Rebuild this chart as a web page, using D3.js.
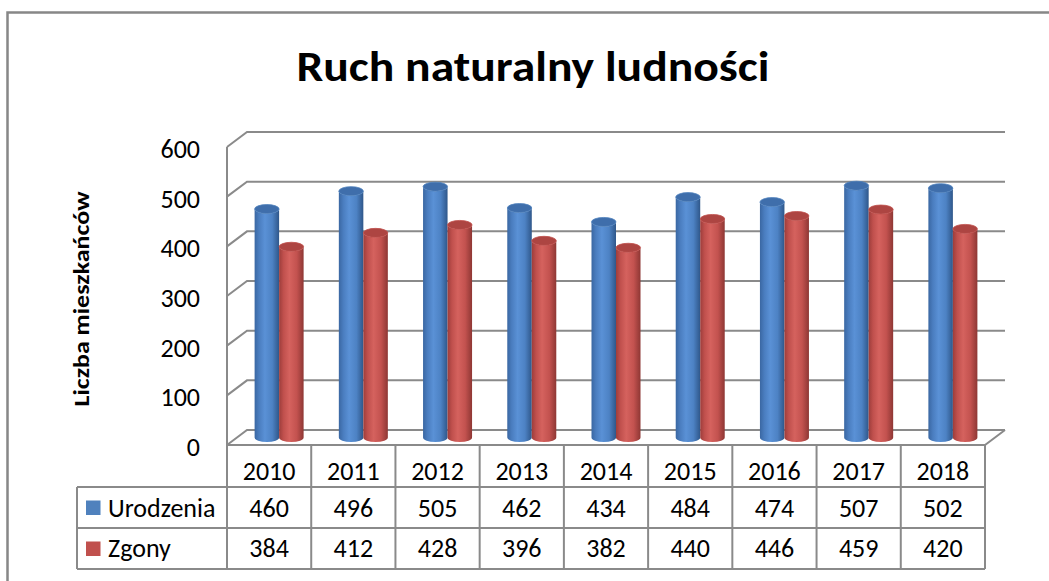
<!DOCTYPE html>
<html>
<head>
<meta charset="utf-8">
<script src="https://cdn.jsdelivr.net/npm/d3@7"></script>
<style>
  body { margin: 0; background: #fff; }
  svg { display: block; }
</style>
</head>
<body>
<script>
const width = 1049;
const height = 581;

const years = ["2010", "2011", "2012", "2013", "2014", "2015", "2016", "2017", "2018"];
const urodzenia = [460, 496, 505, 462, 434, 484, 474, 507, 502];
const zgony = [384, 412, 428, 396, 382, 440, 446, 459, 420];
const yTicks = [0, 100, 200, 300, 400, 500, 600];
const seriesNames = ["Urodzenia", "Zgony"];

const series = [
  { name: seriesNames[0], values: urodzenia, color: "#4f81bd", top: "#3f6eab", grad: "gBlue" },
  { name: seriesNames[1], values: zgony, color: "#c0504d", top: "#ad4542", grad: "gRed" }
];

const font = "Carlito, Lato, 'Open Sans', sans-serif";
const lineColor = "#8a8a8a";

// 3d offsets (front -> back of the plot box)
const depthX = 20;
const depthY = -15;

const x = d3.scaleBand().domain(years).range([227, 985]);
const y = d3.scaleLinear().domain([0, 600]).range([445, 147]);

const svg = d3
  .select("body")
  .append("svg")
  .attr("width", width)
  .attr("height", height)
  .attr("font-family", font);

const defs = svg.append("defs");
const addGrad = (id, stops) => {
  const g = defs.append("linearGradient").attr("id", id).attr("x1", 0).attr("x2", 1).attr("y1", 0).attr("y2", 0);
  stops.forEach(([o, c]) => g.append("stop").attr("offset", o).attr("stop-color", c));
};
addGrad("gBlue", [["0%", "#3a67a2"], ["18%", "#4a7dbf"], ["42%", "#5a91d6"], ["72%", "#4d82c4"], ["100%", "#2f578a"]]);
addGrad("gRed", [["0%", "#9d3d3b"], ["18%", "#c0504d"], ["42%", "#d5625e"], ["72%", "#c3524f"], ["100%", "#8e3734"]]);

// outer chart border
svg
  .append("path")
  .attr("d", `M7.5,${height} V12.5 H${width}`)
  .attr("fill", "none")
  .attr("stroke", "#878787")
  .attr("stroke-width", 2.5);

// title
svg
  .append("text")
  .attr("x", 533)
  .attr("y", 81)
  .attr("text-anchor", "middle")
  .attr("font-size", 42)
  .attr("font-weight", "bold")
  .attr("textLength", 473)
  .attr("lengthAdjust", "spacingAndGlyphs")
  .text("Ruch naturalny ludności");

// y axis title
svg
  .append("text")
  .attr("transform", "translate(89,299) rotate(-90)")
  .attr("text-anchor", "middle")
  .attr("font-size", 22)
  .attr("font-weight", "bold")
  .attr("textLength", 215)
  .attr("lengthAdjust", "spacingAndGlyphs")
  .text("Liczba mieszkańców");

const x0 = x.range()[0];
const x1 = x.range()[1];

// gridlines on back wall + side wall diagonals
const grid = svg.append("g").attr("stroke", lineColor).attr("stroke-width", 2).attr("fill", "none");
grid
  .selectAll("path")
  .data(yTicks)
  .join("path")
  .attr("d", (d) => `M${x0},${y(d)} L${x0 + depthX},${y(d) + depthY} H${x1 + depthX}`);

// left front edge and floor
grid.append("path").attr("d", `M${x0},${y(600)} V${y(0)}`);
grid.append("path").attr("d", `M${x0},${y(0)} H${x1} L${x1 + depthX},${y(0) + depthY}`);

// tick labels
svg
  .append("g")
  .attr("font-size", 26)
  .attr("text-anchor", "end")
  .selectAll("text")
  .data(yTicks)
  .join("text")
  .attr("x", 200)
  .attr("y", (d) => y(d) + 11)
  .text((d) => d);

// cylinders
const barW = 24.5;
const rx = barW / 2;
const ry = 4.5;
const midX = depthX / 2;
const midY = depthY / 2;

const bars = svg.append("g");
years.forEach((yr, i) => {
  const cx = x(yr) + x.bandwidth() / 2 + midX;
  series.forEach((s, j) => {
    const left = cx - barW + j * barW;
    const right = left + barW;
    const top = y(s.values[i]) + midY;
    const bot = y(0) + midY;
    const g = bars.append("g");
    g.append("path")
      .attr("d", `M${left},${top} V${bot} A${rx},${ry} 0 0 0 ${right},${bot} V${top} A${rx},${ry} 0 0 1 ${left},${top} Z`)
      .attr("fill", `url(#${s.grad})`);
    g.append("ellipse")
      .attr("cx", left + rx)
      .attr("cy", top)
      .attr("rx", rx)
      .attr("ry", ry)
      .attr("fill", s.top)
      .attr("stroke", s.color)
      .attr("stroke-width", 0.8);
  });
});

// data table
const rowTop = 445;
const rowH = [42, 41, 41];
const rowY = [rowTop, rowTop + rowH[0], rowTop + rowH[0] + rowH[1], rowTop + rowH[0] + rowH[1] + rowH[2]];
const legendLeft = 77;

const table = svg.append("g");
const tl = table.append("g").attr("stroke", lineColor).attr("stroke-width", 2).attr("fill", "none");

// column verticals
tl.selectAll("line.col")
  .data(years.concat(["end"]))
  .join("line")
  .attr("class", "col")
  .attr("x1", (d) => (d === "end" ? x1 : x(d)))
  .attr("x2", (d) => (d === "end" ? x1 : x(d)))
  .attr("y1", rowY[0])
  .attr("y2", rowY[3]);

// horizontal rows
tl.append("line").attr("x1", legendLeft).attr("x2", x1).attr("y1", rowY[1]).attr("y2", rowY[1]);
tl.append("line").attr("x1", legendLeft).attr("x2", x1).attr("y1", rowY[2]).attr("y2", rowY[2]);
tl.append("line").attr("x1", legendLeft).attr("x2", x1).attr("y1", rowY[3]).attr("y2", rowY[3]);
tl.append("line").attr("x1", legendLeft).attr("x2", legendLeft).attr("y1", rowY[1]).attr("y2", rowY[3]);

const tt = table.append("g").attr("font-size", 26).attr("text-anchor", "middle");
tt.selectAll("text.yr")
  .data(years)
  .join("text")
  .attr("class", "yr")
  .attr("x", (d) => x(d) + x.bandwidth() / 2)
  .attr("y", 480)
  .text((d) => d);

series.forEach((s, j) => {
  const base = j === 0 ? 517 : 557;
  tt.append("g")
    .selectAll("text")
    .data(s.values)
    .join("text")
    .attr("x", (d, i) => x(years[i]) + x.bandwidth() / 2)
    .attr("y", base)
    .text((d) => d);
  table
    .append("rect")
    .attr("x", 86)
    .attr("y", (j === 0 ? 500.5 : 541.5))
    .attr("width", 14.5)
    .attr("height", 14.5)
    .attr("fill", s.color);
  table
    .append("text")
    .attr("x", 108)
    .attr("y", base)
    .attr("font-size", 26)
    .text(s.name);
});
</script>
</body>
</html>
